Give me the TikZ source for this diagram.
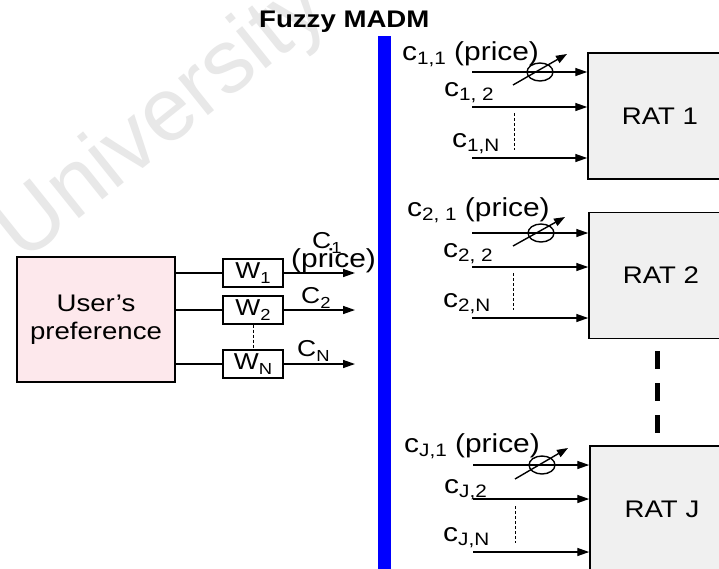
\documentclass[tikz,border=0pt]{standalone}
\usepackage{fontspec}
\setmainfont{Liberation Sans}[FakeStretch=1.15]
\newfontfamily\wmfont{Liberation Sans}
\usetikzlibrary{arrows.meta,shapes.geometric}
\definecolor{userpink}{RGB}{253,232,236}
\definecolor{ratgray}{RGB}{240,240,240}
\definecolor{barblue}{RGB}{0,0,255}
\definecolor{wmgray}{RGB}{232,232,232}
\newcommand\fsz[1]{\fontsize{#1}{#1}\selectfont}
\newcommand\csub[1]{\raisebox{-4pt}{\fsz{18}#1}}
\newcommand\wsub[1]{\raisebox{-5pt}{\fsz{16}#1}}
\begin{document}
\begin{tikzpicture}[x=1pt,y=-1pt,
  ratbox/.style={draw, line width=1.5pt, fill=ratgray, minimum width=144pt, minimum height=126pt, inner sep=0pt, font=\fsz{24}},
  userbox/.style={draw, line width=1.5pt, fill=userpink, minimum width=158pt, minimum height=125pt, inner sep=0pt, align=center, font=\fontsize{24}{28}\selectfont},
  wbox/.style={draw, line width=1.3pt, fill=white, minimum width=60pt, minimum height=28pt, inner sep=0pt, font=\fsz{23}},
  arr/.style={line width=1.4pt, -{Triangle[length=12pt,width=8pt]}},
  diag/.style={line width=1.4pt, -{Triangle[length=11pt,width=8pt]}},
  plainln/.style={line width=1.4pt},
  knob/.style={draw, ellipse, line width=1.4pt, minimum width=26pt, minimum height=18pt, inner sep=0pt},
  dotln/.style={line width=0.9pt, dash pattern=on 3pt off 2pt},
  lbl/.style={anchor=base west, inner sep=0pt, font=\fsz{26}},
  clbl/.style={anchor=base west, inner sep=0pt, font=\fsz{23}},
]
\useasboundingbox (0,0) rectangle (719,568);
\fill[white] (0,0) rectangle (719,568);

% watermark
\node[rotate=38.7, anchor=base, inner sep=0pt, font=\wmfont\fsz{90}, text=wmgray] (wm) at (178,140) {University};

% title and bar
\node[anchor=base west, inner sep=0pt, font=\bfseries\fsz{24}] (title) at (259,27) {Fuzzy MADM};
\fill[barblue] (378,36) rectangle (391,570);

% ---------- left part ----------
\node[userbox] (user) at (96,319.5) {User’s\\preference};
\node[wbox] (w1) at (253,273) {W\wsub{1}};
\node[wbox] (w2) at (253,310) {W\wsub{2}};
\node[wbox] (wn) at (253,364) {W\wsub{N}};
\coordinate (e1) at (355,273);
\coordinate (e2) at (355,310);
\coordinate (en) at (355,364);
\draw[plainln] (user.east |- w1) -- (w1.west);
\draw[plainln] (user.east |- w2) -- (w2.west);
\draw[plainln] (user.east |- wn) -- (wn.west);
\draw[arr] (w1.east) -- (e1);
\draw[arr] (w2.east) -- (e2);
\draw[arr] (wn.east) -- (en);
\draw[dotln] (w2.south) -- (wn.north);
\node[clbl] (lc1) at (312,248) {C\wsub{1}};
\node[lbl] (lpr) at (291,267) {(price)};
\node[clbl] (lc2) at (301,303) {C\wsub{2}};
\node[clbl] (lcn) at (297,356) {C\wsub{N}};

% ---------- RAT 1 ----------
\node[ratbox] (rat1) at (660,116) {RAT 1};
\coordinate (s11) at (472,72);
\coordinate (s12) at (472,107);
\coordinate (s1n) at (472,158);
\draw[arr] (s11) -- (s11 -| rat1.west);
\draw[arr] (s12) -- (s12 -| rat1.west);
\draw[arr] (s1n) -- (s1n -| rat1.west);
\node[knob] (k1) at (540,72) {};
\coordinate (d1s) at (513,85);
\coordinate (d1e) at (567,54);
\draw[diag] (d1s) -- (d1e);
\coordinate (v1a) at (514,113);
\coordinate (v1b) at (514,150);
\draw[dotln] (v1a) -- (v1b);
\node[lbl] (l11) at (402,60) {c\csub{1,1} (price)};
\node[lbl] (l12) at (444,96) {c\csub{1, 2}};
\node[lbl] (l1n) at (452,147) {c\csub{1,N}};

% ---------- RAT 2 ----------
\node[ratbox] (rat2) at (661,275.5) {RAT 2};
\coordinate (s21) at (472,233);
\coordinate (s22) at (472,267);
\coordinate (s2n) at (472,318);
\draw[arr] (s21) -- (s21 -| rat2.west);
\draw[arr] (s22) -- (s22 -| rat2.west);
\draw[arr] (s2n) -- (s2n -| rat2.west);
\node[knob] (k2) at (541,233) {};
\coordinate (d2s) at (513,246);
\coordinate (d2e) at (565,217);
\draw[diag] (d2s) -- (d2e);
\coordinate (v2a) at (513,273);
\coordinate (v2b) at (513,310);
\draw[dotln] (v2a) -- (v2b);
\node[lbl] (l21) at (407,216) {c\csub{2, 1} (price)};
\node[lbl] (l22) at (443,257) {c\csub{2, 2}};
\node[lbl] (l2n) at (443,307) {c\csub{2,N}};

% dashes between RAT 2 and RAT J
\coordinate (dda) at (657.5,351);
\coordinate (ddb) at (657.5,434);
\draw[line width=5pt, dash pattern=on 18pt off 14pt] (dda) -- (ddb);

% ---------- RAT J ----------
\node[ratbox] (ratj) at (662,509) {RAT J};
\coordinate (sj1) at (473,465);
\coordinate (sj2) at (473,499);
\coordinate (sjn) at (473,552);
\draw[arr] (sj1) -- (sj1 -| ratj.west);
\draw[arr] (sj2) -- (sj2 -| ratj.west);
\draw[arr] (sjn) -- (sjn -| ratj.west);
\node[knob] (kj) at (542,465) {};
\coordinate (djs) at (515,479);
\coordinate (dje) at (568,448);
\draw[diag] (djs) -- (dje);
\coordinate (vja) at (515,506);
\coordinate (vjb) at (515,543);
\draw[dotln] (vja) -- (vjb);
\node[lbl] (lj1) at (404,452) {c\csub{J,1} (price)};
\node[lbl] (lj2) at (444,493) {c\csub{J,2}};
\node[lbl] (ljn) at (443,541) {c\csub{J,N}};
\end{tikzpicture}
\end{document}
